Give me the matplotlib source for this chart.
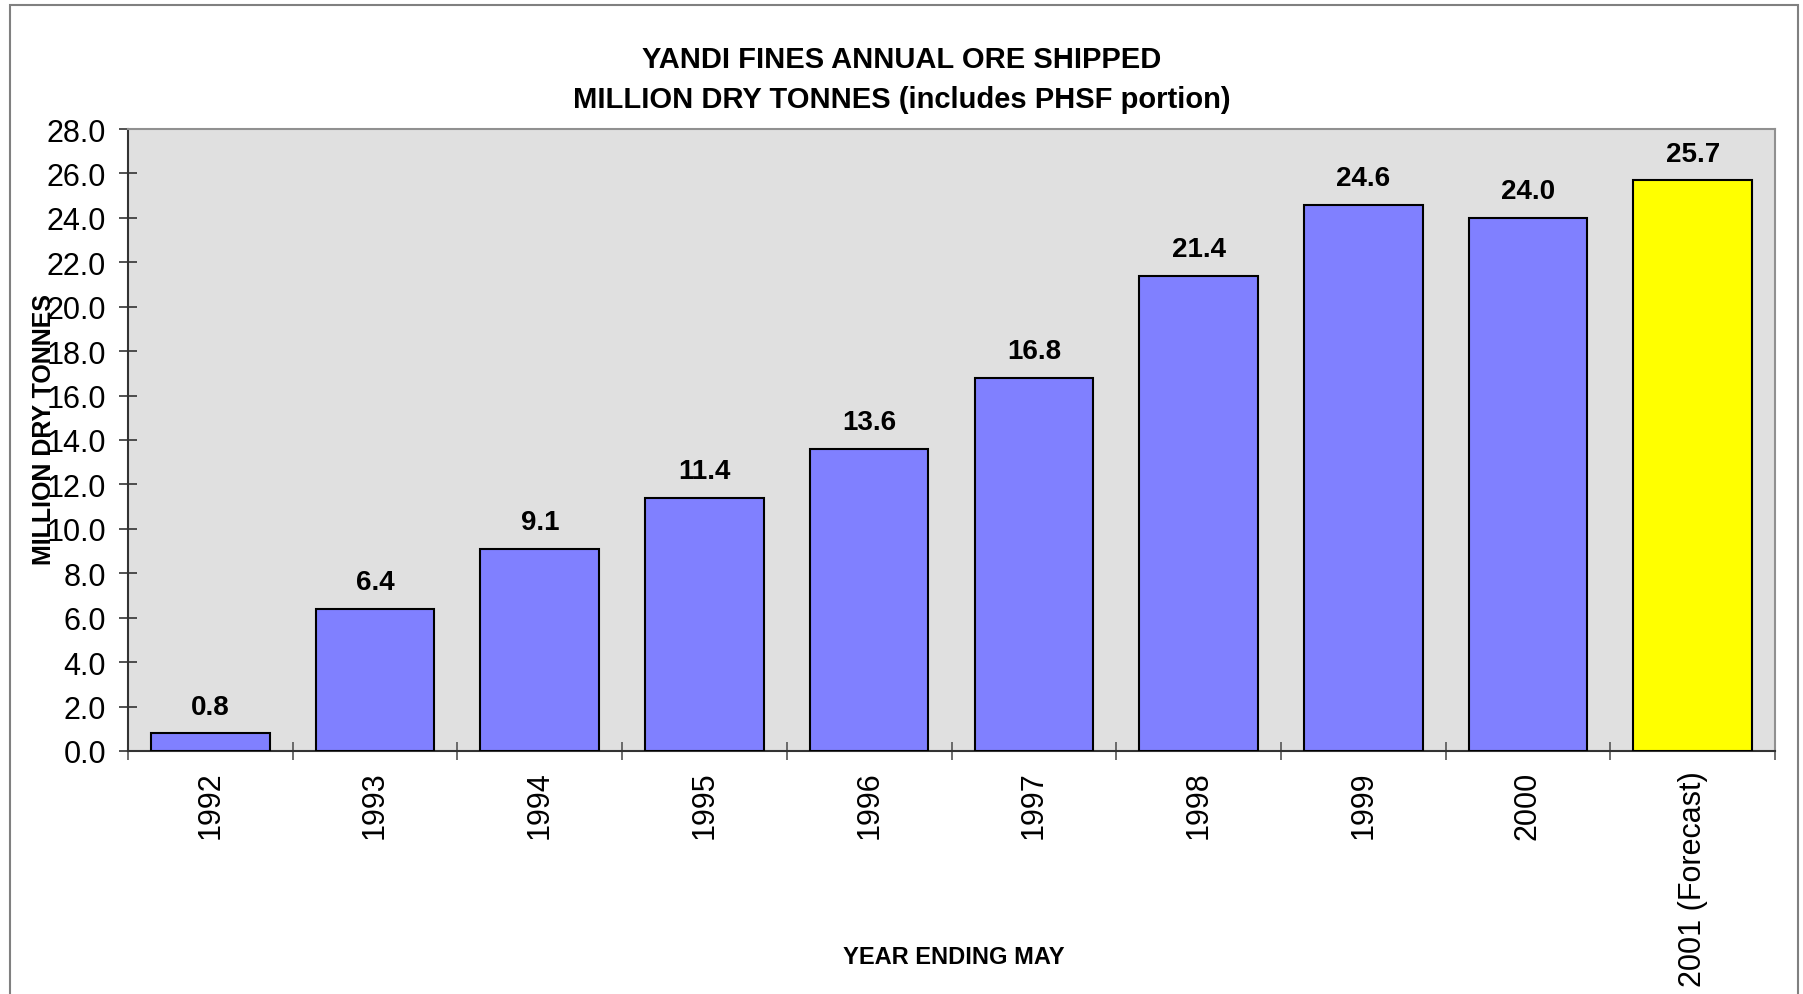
import matplotlib.pyplot as plt
from matplotlib.patches import Rectangle

plt.rcParams['font.family'] = ['Liberation Sans', 'DejaVu Sans']

# Data
years = ["1992", "1993", "1994", "1995", "1996", "1997", "1998", "1999", "2000", "2001 (Forecast)"]
shipped = [0.8, 6.4, 9.1, 11.4, 13.6, 16.8, 21.4, 24.6, 24.0, 25.7]
bar_colors = ["#8080FF"] * 9 + ["#FFFF00"]
y_ticks = [0.0, 2.0, 4.0, 6.0, 8.0, 10.0, 12.0, 14.0, 16.0, 18.0, 20.0, 22.0, 24.0, 26.0, 28.0]

W, H = 1803, 995
fig = plt.figure(figsize=(W / 100, H / 100), dpi=100)
ax = fig.add_axes([128 / W, 1 - 752 / H, (1775 - 128) / W, (752 - 130) / H])
ax.set_facecolor("#E0E0E0")

x = list(range(len(years)))
bars = ax.bar(x, shipped, width=0.72, color=bar_colors, edgecolor="black", linewidth=1.5, zorder=3)

# value labels above bars
for xi, v in zip(x, shipped):
    ax.annotate(f"{v:.1f}", (xi, v), xytext=(0, 14), textcoords="offset points",
                ha="center", va="baseline", fontsize=20, fontweight="bold")

ax.set_xlim(-0.5, len(years) - 0.5)
ax.set_ylim(0, 28)
ax.set_yticks(y_ticks)
ax.set_yticklabels([f"{t:.1f}" for t in y_ticks], fontsize=22)

# category labels at centers, ticks at boundaries
ax.set_xticks(x)
ax.set_xticklabels(years, rotation=90, fontsize=22)
ax.tick_params(axis="x", which="major", length=0, pad=14)
ax.set_xticks([i + 0.5 for i in range(-1, len(years))], minor=True)
ax.tick_params(axis="x", which="minor", direction="inout", length=13, width=1.2, color="#555555")
ax.tick_params(axis="y", direction="inout", length=13.5, width=1.2, color="#333333", pad=9)

for side in ["top", "right"]:
    ax.spines[side].set_color("#909090")
    ax.spines[side].set_linewidth(1.5)
for side in ["left", "bottom"]:
    ax.spines[side].set_color("#333333")
    ax.spines[side].set_linewidth(1.5)

# titles and axis labels
fig.text(0.5, 1 - 60 / H, "YANDI FINES ANNUAL ORE SHIPPED", ha="center", va="center",
         fontsize=21, fontweight="bold")
fig.text(0.5, 1 - 100 / H, "MILLION DRY TONNES (includes PHSF portion)", ha="center", va="center",
         fontsize=21, fontweight="bold")
fig.text(954 / W, 1 - 958 / H, "YEAR ENDING MAY", ha="center", va="center",
         fontsize=17, fontweight="bold")
fig.text(44 / W, 1 - 430 / H, "MILLION DRY TONNES", ha="center", va="center",
         rotation=90, fontsize=18, fontweight="bold")

# outer chart frame
fig.patches.append(Rectangle((10 / W, -0.01), (1798 - 10) / W, 1.01 - 6 / H,
                             transform=fig.transFigure, fill=False,
                             edgecolor="#808080", linewidth=1.5))

fig.savefig("out.png", dpi=100)
